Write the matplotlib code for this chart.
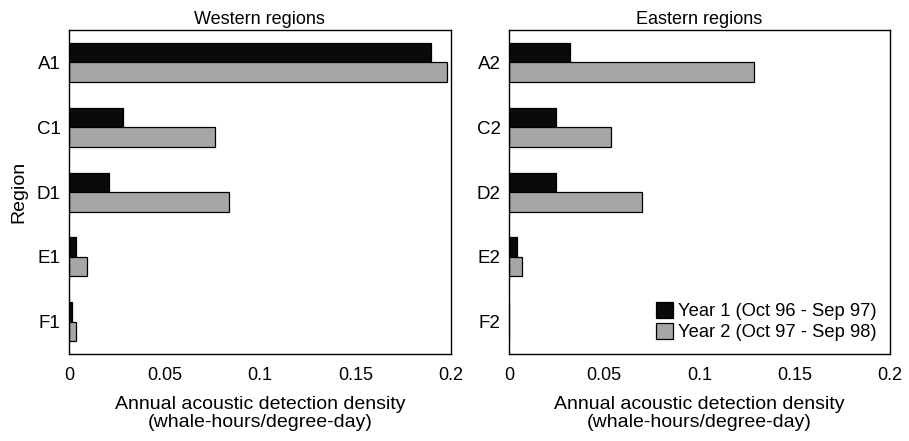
import numpy as np
import matplotlib
matplotlib.use('Agg')
import matplotlib.pyplot as plt

plt.rcParams['font.family'] = ['Liberation Sans', 'DejaVu Sans']

# data
west_regions = ['A1', 'C1', 'D1', 'E1', 'F1']
west_year1 = [0.1897, 0.0283, 0.0208, 0.0037, 0.0017]
west_year2 = [0.198, 0.0765, 0.084, 0.0096, 0.0037]

east_regions = ['A2', 'C2', 'D2', 'E2', 'F2']
east_year1 = [0.032, 0.0248, 0.0248, 0.004, 0.0]
east_year2 = [0.1288, 0.0537, 0.0696, 0.007, 0.0]

year_labels = ['Year 1 (Oct 96 - Sep 97)', 'Year 2 (Oct 97 - Sep 98)']
x_ticks = [0, 0.05, 0.1, 0.15, 0.2]
x_tick_labels = ['0', '0.05', '0.1', '0.15', '0.2']

fig = plt.figure(figsize=(9.09, 4.41), dpi=100)
ax_w = fig.add_axes([0.0759, 0.197, 0.420, 0.735])
ax_e = fig.add_axes([0.560, 0.197, 0.419, 0.735])

bar_h = 0.3
for ax, regions, y1, y2, title in [(ax_w, west_regions, west_year1, west_year2, 'Western regions'),
                                    (ax_e, east_regions, east_year1, east_year2, 'Eastern regions')]:
    pos = np.arange(len(regions))
    ax.barh(pos - bar_h / 2, y1, height=bar_h, color='#0a0a0a', edgecolor='black', linewidth=0.9,
            label=year_labels[0])
    ax.barh(pos + bar_h / 2, y2, height=bar_h, color='#a6a6a6', edgecolor='black', linewidth=0.9,
            label=year_labels[1])
    ax.set_yticks(pos)
    ax.set_yticklabels(regions, fontsize=13.5)
    ax.set_ylim(len(regions) - 0.5, -0.5)
    ax.set_xlim(0, 0.2)
    ax.set_xticks(x_ticks)
    ax.set_xticklabels(x_tick_labels, fontsize=13)
    ax.tick_params(axis='y', length=0, pad=6)
    ax.tick_params(axis='x', length=0, pad=9)
    ax.set_title(title, fontsize=13, pad=4)
    ax.set_xlabel('Annual acoustic detection density\n(whale-hours/degree-day)', fontsize=14,
                  labelpad=9, linespacing=1.1)
    for sp in ax.spines.values():
        sp.set_linewidth(1.0)

ax_w.set_ylabel('Region', fontsize=14, labelpad=7)

ax_e.legend(loc='lower right', fontsize=13.2, frameon=False, handlelength=0.95, handleheight=0.95,
            handletextpad=0.3, labelspacing=0.15, borderaxespad=0.3)

fig.savefig('out.png', dpi=100)
